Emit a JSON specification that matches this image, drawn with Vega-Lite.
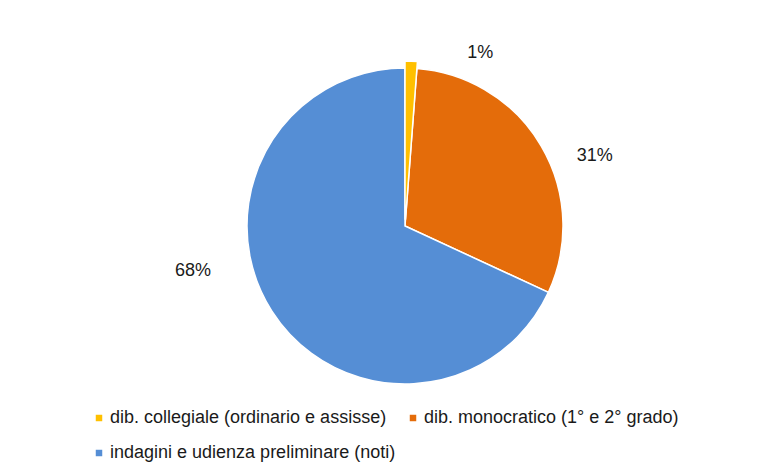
{
  "$schema": "https://vega.github.io/schema/vega-lite/v6.json",
  "width": 750,
  "height": 452,
  "autosize": {"type": "none"},
  "padding": {"left": 30, "top": 0, "right": 0, "bottom": 22},
  "background": "white",
  "config": {"view": {"stroke": null}, "font": "Liberation Sans"},
  "data": {
    "values": [
      {"cat": "dib. collegiale (ordinario e assisse)", "value": 1.2, "label": "1%"},
      {"cat": "dib. monocratico (1° e 2° grado)", "value": 30.7, "label": "31%"},
      {"cat": "indagini e udienza  preliminare (noti)", "value": 68.1, "label": "68%"}
    ]
  },
  "encoding": {
    "theta": {"field": "value", "type": "quantitative", "stack": true},
    "color": {
      "field": "cat",
      "type": "nominal",
      "scale": {
        "domain": ["dib. collegiale (ordinario e assisse)", "dib. monocratico (1° e 2° grado)", "indagini e udienza  preliminare (noti)"],
        "range": ["#FFC000", "#E46C0A", "#558ED5"]
      },
      "legend": {
        "orient": "none",
        "legendX": 60,
        "legendY": 409,
        "direction": "horizontal",
        "columns": 2,
        "title": null,
        "symbolType": "square",
        "symbolSize": 42,
        "symbolStrokeWidth": 0,
        "labelFontSize": 18,
        "labelFont": "Liberation Sans",
        "labelColor": "#1a1a1a",
        "labelLimit": 400,
        "labelOffset": 2,
        "columnPadding": 3,
        "rowPadding": 17,
        "padding": 0
      }
    }
  },
  "layer": [
    {
      "mark": {"type": "arc", "outerRadius": 158, "stroke": "white", "strokeWidth": 1.5},
      "encoding": {
        "opacity": {"condition": {"test": "datum.cat === 'dib. collegiale (ordinario e assisse)'", "value": 0}, "value": 1}
      }
    },
    {
      "mark": {"type": "arc", "outerRadius": 165, "innerRadius": 7, "stroke": "white", "strokeWidth": 1.5},
      "encoding": {
        "opacity": {"condition": {"test": "datum.cat === 'dib. collegiale (ordinario e assisse)'", "value": 1}, "value": 0}
      }
    },
    {
      "mark": {"type": "text", "radius": 190, "dx": 68, "dy": 17, "fontSize": 18, "font": "Liberation Sans"},
      "encoding": {
        "text": {"condition": {"test": "datum.cat === 'dib. collegiale (ordinario e assisse)'", "field": "label", "type": "nominal"}, "value": ""},
        "color": {"value": "#1a1a1a"},
        "detail": {"field": "cat", "type": "nominal"}
      }
    },
    {
      "mark": {"type": "text", "radius": 190, "dx": 26, "dy": 26, "fontSize": 18, "font": "Liberation Sans"},
      "encoding": {
        "text": {"condition": {"test": "datum.cat === 'dib. monocratico (1° e 2° grado)'", "field": "label", "type": "nominal"}, "value": ""},
        "color": {"value": "#1a1a1a"},
        "detail": {"field": "cat", "type": "nominal"}
      }
    },
    {
      "mark": {"type": "text", "radius": 190, "dx": -52, "dy": -57, "fontSize": 18, "font": "Liberation Sans"},
      "encoding": {
        "text": {"condition": {"test": "datum.cat === 'indagini e udienza  preliminare (noti)'", "field": "label", "type": "nominal"}, "value": ""},
        "color": {"value": "#1a1a1a"},
        "detail": {"field": "cat", "type": "nominal"}
      }
    }
  ]
}
